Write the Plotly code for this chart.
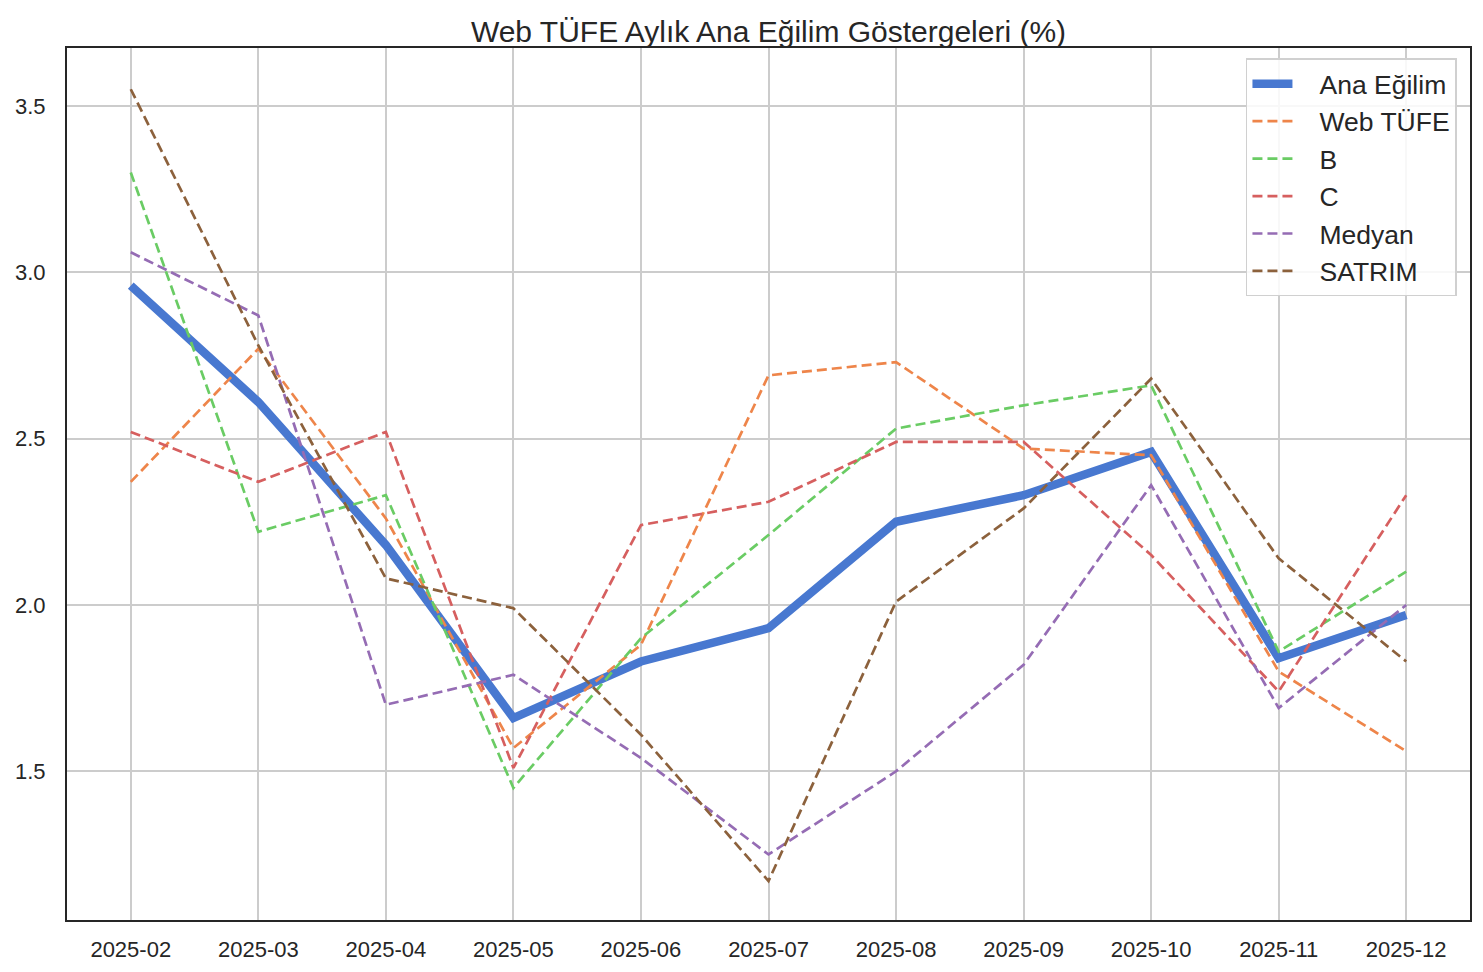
import plotly.graph_objects as go

months = ["2025-02", "2025-03", "2025-04", "2025-05", "2025-06", "2025-07",
          "2025-08", "2025-09", "2025-10", "2025-11", "2025-12"]

ana_egilim = [2.96, 2.61, 2.18, 1.66, 1.83, 1.93, 2.25, 2.33, 2.46, 1.84, 1.97]
web_tufe   = [2.37, 2.77, 2.26, 1.57, 1.88, 2.69, 2.73, 2.47, 2.45, 1.80, 1.56]
b_series   = [3.30, 2.22, 2.33, 1.45, 1.90, 2.21, 2.53, 2.60, 2.66, 1.86, 2.10]
c_series   = [2.52, 2.37, 2.52, 1.51, 2.24, 2.31, 2.49, 2.49, 2.15, 1.74, 2.33]
medyan     = [3.06, 2.87, 1.70, 1.79, 1.54, 1.25, 1.50, 1.82, 2.36, 1.69, 2.00]
satrim     = [3.55, 2.78, 2.08, 1.99, 1.61, 1.17, 2.01, 2.29, 2.68, 2.14, 1.83]

series = [
    ("Web TÜFE", web_tufe, "#ee854a"),
    ("B", b_series, "#6acc64"),
    ("C", c_series, "#d65f5f"),
    ("Medyan", medyan, "#956cb4"),
    ("SATRIM", satrim, "#8c613c"),
]

pad = "\u00a0\u00a0\u00a0"

fig = go.Figure()
fig.add_trace(go.Scatter(x=months, y=ana_egilim, name=pad + "Ana Eğilim", mode="lines",
                         line=dict(color="#4878d0", width=8.5)))
for name, vals, col in series:
    fig.add_trace(go.Scatter(x=months, y=vals, name=pad + name, mode="lines",
                             line=dict(color=col, width=2.7, dash="10px,5px")))

font_family = "Liberation Sans, Arial, sans-serif"
fig.update_layout(
    width=1475, height=964,
    margin=dict(l=59, r=13, t=40, b=52),
    paper_bgcolor="white", plot_bgcolor="white",
    font=dict(family=font_family, color="#262626", size=22),
    title=dict(text="Web TÜFE Aylık Ana Eğilim Göstergeleri (%)", x=0.5, xref="paper",
               xanchor="center", y=1 - 23 / 964, yanchor="middle", yref="container",
               font=dict(size=30, color="#262626", family=font_family)),
    legend=dict(x=0.9907, xanchor="right", y=0.988, yanchor="top",
                bgcolor="rgba(255,255,255,0.85)", bordercolor="#d0d0d0", borderwidth=1.5,
                font=dict(size=26.5, color="#262626"), tracegroupgap=0, itemwidth=40),
    showlegend=True,
)
fig.update_xaxes(type="category", range=[-0.5, 10.5], showgrid=True, gridcolor="#cccccc",
                 gridwidth=1.5, showline=True, linecolor="#262626", linewidth=2, mirror=True,
                 ticks="", ticklabelstandoff=9, zeroline=False, automargin=False,
                 tickfont=dict(size=22, color="#262626"))
fig.update_yaxes(range=[1.053, 3.674], tickvals=[1.5, 2.0, 2.5, 3.0, 3.5],
                 ticktext=["1.5", "2.0", "2.5", "3.0", "3.5"],
                 showgrid=True, gridcolor="#cccccc", gridwidth=1.5,
                 showline=True, linecolor="#262626", linewidth=2, mirror=True,
                 ticks="", ticklabelstandoff=15, zeroline=False, automargin=False,
                 tickfont=dict(size=22, color="#262626"))

fig.write_html("out.html")
